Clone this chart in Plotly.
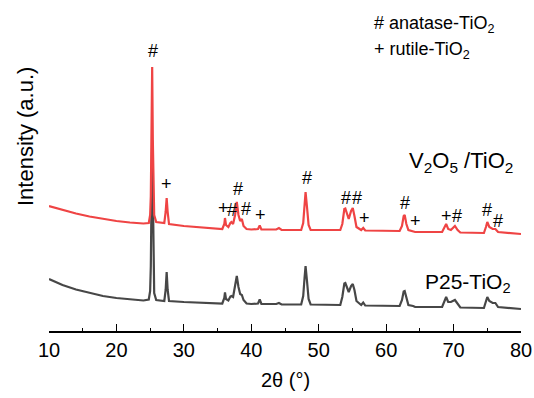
import plotly.graph_objects as go

# 2-theta sampling points (degrees) shared by both patterns
two_theta = [10, 12, 14, 16, 18, 20, 22, 24, 24.8, 25.0, 25.1, 25.2, 25.3, 25.4, 25.5, 25.6, 25.9,
             27.1, 27.3, 27.45, 27.6, 27.8, 30, 33, 35.7, 36.0, 36.1, 36.25, 36.6, 36.9,
             37.05, 37.3, 37.6, 37.85, 38.1, 38.35, 38.6, 38.85, 39.3, 40, 41.0, 41.25,
             41.5, 43.7, 44.1, 44.5, 47.4, 47.7, 47.9, 48.05, 48.25, 48.5, 48.8, 53.2,
             53.5, 53.8, 53.95, 54.2, 54.45, 54.8, 55.05, 55.3, 55.6, 56.3, 56.6, 56.9,
             62.0, 62.35, 62.6, 62.75, 63.0, 63.3, 64.0, 64.3, 68.3, 68.7, 68.9, 69.2,
             69.6, 70.2, 70.6, 71.0, 74.5, 74.8, 75.0, 75.3, 75.8, 76.2, 76.6, 80]

# V2O5/TiO2 pattern (offset upward)
v2o5_tio2 = [125, 121, 117.5, 114.5, 112, 110, 108.5, 107.5, 108, 116, 135, 190, 264, 190, 135, 116, 109,
             108, 119, 133, 119, 107, 105, 103.5, 102, 107, 113, 106, 104, 108,
             109, 107, 116, 129, 116, 110, 112, 105, 102, 101.5, 102, 105.5,
             101.5, 101.5, 103, 101, 101, 108, 126, 139, 125, 106, 101, 101,
             107, 122, 122.5, 117, 112, 120, 123, 115, 104, 101, 103, 100.5,
             100, 105, 115, 116, 107, 101, 100, 99, 99, 104, 107, 102,
             101, 105, 101, 98.5, 98, 104, 109, 104, 102, 102, 99, 97]

# P25-TiO2 pattern
p25_tio2 = [52, 46, 41.5, 38, 35, 33, 31.5, 30.5, 31.5, 40, 65, 140, 191, 140, 65, 38, 31,
            30, 41, 59, 41, 30, 29, 28, 27.5, 33, 38.5, 32, 30.5, 34.5,
            35, 34, 45, 55, 44, 37, 36, 31, 27.5, 27, 27.5, 31.5,
            27, 27, 28, 26.5, 26.5, 35, 53, 65, 51, 32, 26.5, 26,
            34, 47.5, 48, 43, 39, 45, 47, 41, 30, 26, 28.5, 25.5,
            25, 31, 39.5, 40, 32, 26, 25, 24, 24, 31, 34, 29,
            29, 31, 27, 23.5, 23, 30, 34, 30, 28, 28, 24, 22]

# Phase markers: position (deg), label height (a.u.), symbol
marker_pos = [25.47, 27.46, 35.86, 37.11, 38.09, 39.23, 41.31, 48.32, 54.07, 55.74,
              56.74, 62.82, 64.30, 68.90, 70.58, 75.03, 76.66]
marker_int = [280, 147, 123, 121, 142, 122, 116, 153, 133, 133,
              113, 128, 110, 115, 115, 121, 110]
marker_sym = ["#", "+", "+", "#", "#", "#", "+", "#", "#", "#",
              "+", "#", "+", "+", "#", "#", "#"]

x_ticks = [10, 20, 30, 40, 50, 60, 70, 80]

FONT = "Arial, Liberation Sans, sans-serif"

fig = go.Figure()
fig.add_trace(go.Scatter(x=two_theta, y=p25_tio2, mode="lines",
                         line=dict(color="#474747", width=2.2), hoverinfo="skip"))
fig.add_trace(go.Scatter(x=two_theta, y=v2o5_tio2, mode="lines",
                         line=dict(color="#ef4444", width=2.2), hoverinfo="skip"))

annotations = []
for xp, yp, s in zip(marker_pos, marker_int, marker_sym):
    annotations.append(dict(x=xp, y=yp, text=s, showarrow=False, xanchor="center",
                            yanchor="middle", font=dict(family=FONT, size=18, color="black")))

annotations += [
    dict(x=63.07, y=169, text="V<sub>2</sub>O<sub>5</sub> /TiO<sub>2</sub>", showarrow=False,
         xanchor="left", yanchor="middle", font=dict(family=FONT, size=22, color="black")),
    dict(x=65.5, y=48, text="P25-TiO<sub>2</sub>", showarrow=False,
         xanchor="left", yanchor="middle", font=dict(family=FONT, size=21, color="black")),
    dict(x=57.9, y=307, text="# anatase-TiO<sub>2</sub>", showarrow=False,
         xanchor="left", yanchor="middle", font=dict(family=FONT, size=18, color="black")),
    dict(x=57.9, y=281, text="+ rutile-TiO<sub>2</sub>", showarrow=False,
         xanchor="left", yanchor="middle", font=dict(family=FONT, size=18, color="black")),
    dict(xref="paper", yref="paper", x=-24 / 472, y=194 / 331, text="Intensity (a.u.)",
         textangle=-90, showarrow=False, xanchor="center", yanchor="middle",
         font=dict(family=FONT, size=22, color="black")),
    dict(xref="paper", yref="paper", x=0.5, y=-(380 - 331) / 331, text="2θ (°)",
         showarrow=False, xanchor="center", yanchor="middle",
         font=dict(family=FONT, size=20, color="black")),
]

fig.update_layout(
    width=534, height=398,
    margin=dict(l=49, r=13, t=0, b=67),
    paper_bgcolor="white", plot_bgcolor="white",
    showlegend=False,
    annotations=annotations,
    xaxis=dict(range=[10, 80], tickvals=x_ticks, ticks="inside", ticklen=7, tickwidth=1.3,
               tickcolor="black", showline=True, linecolor="black", linewidth=1.5,
               showgrid=False, zeroline=False,
               minor=dict(ticks="inside", ticklen=3.5, tickwidth=1.3, tickcolor="black", dtick=5,
                          tick0=10, showgrid=False),
               tickfont=dict(family=FONT, size=20, color="black")),
    yaxis=dict(range=[0, 331], visible=False),
)

fig.write_html("out.html")
